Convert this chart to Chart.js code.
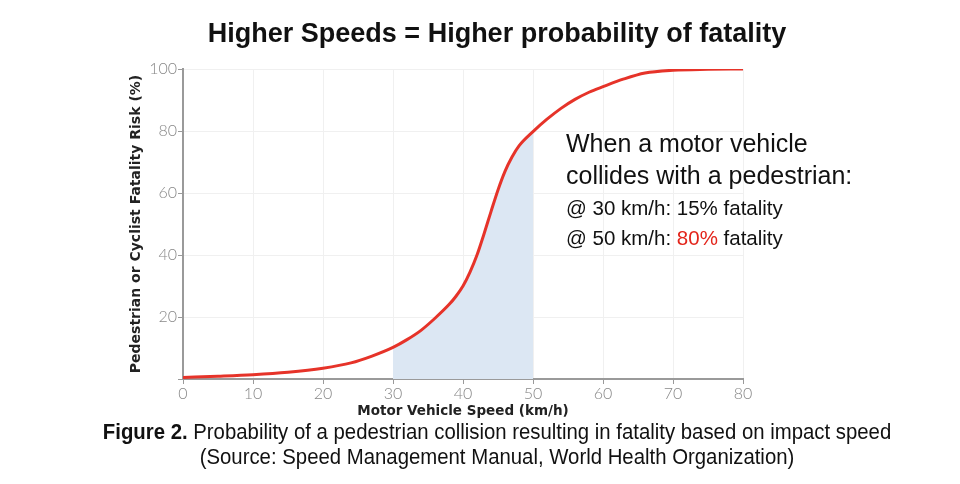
<html lang="en">
<head>
    <meta charset="UTF-8">
    <title>Higher Speeds = Higher probability of fatality</title>
    <script src="https://cdn.jsdelivr.net/npm/chart.js"></script>
    <style>
        body { margin: 0; background: #fff; }
        #wrap { position: relative; width: 960px; height: 484px; }
        #chart { position: absolute; left: 0; top: 0; }
        .txt { position: absolute; font-family: "Liberation Sans", Arial, sans-serif; color: #111; white-space: nowrap; }
        #title { left: 0; width: 994px; top: 18px; text-align: center; font-weight: bold; font-size: 27px; }
        #note1 { left: 566px; top: 127px; font-size: 25px; line-height: 32px; }
        #note2 { left: 566px; top: 193px; font-size: 20.5px; line-height: 30px; }
        #caption { left: 0; width: 994px; top: 419px; text-align: center; font-size: 22px; line-height: 25px; transform: scaleX(0.925); transform-origin: 497px 0; }
        .red { color: #e3251b; }
    </style>
</head>
<body>
<div id="wrap">
    <canvas id="chart" width="960" height="484"></canvas>
    <div class="txt" id="title">Higher Speeds = Higher probability of fatality</div>
    <div class="txt" id="note1">When a motor vehicle<br>collides with a pedestrian:</div>
    <div class="txt" id="note2">@ 30 km/h: 15% fatality<br>@ 50 km/h: <span class="red">80%</span> fatality</div>
    <div class="txt" id="caption"><b>Figure 2.</b> Probability of a pedestrian collision resulting in fatality based on impact speed<br>(Source: Speed Management Manual, World Health Organization)</div>
</div>

<script>
    // speed (km/h) and fatality risk (%)
    const speeds = [0, 5, 10, 15, 20, 24, 27, 30, 32, 34, 36, 38, 39, 40, 41, 42, 43, 44, 45, 46, 47, 48, 50, 52, 54, 56, 58, 60, 63, 66, 70, 75, 80];
    const risk   = [0.5, 0.9, 1.4, 2.2, 3.5, 5.2, 7.4, 10.2, 12.7, 15.7, 19.6, 24, 26.7, 30, 34.5, 40, 46.8, 54, 61, 67, 71.6, 75.2, 79.8, 83.8, 87.3, 90.2, 92.5, 94.3, 96.8, 98.7, 99.6, 99.9, 100];
    const shadeFrom = 30;
    const shadeTo = 50;
    const xTicks = [0, 10, 20, 30, 40, 50, 60, 70, 80];
    const yTicks = [0, 20, 40, 60, 80, 100];

    const curve = speeds.map((s, i) => ({ x: s, y: risk[i] }));
    const shaded = curve.filter(p => p.x >= shadeFrom && p.x <= shadeTo);

    const tickFont = { family: 'Lato, "Noto Sans", sans-serif', size: 16, weight: 300 };
    const titleFont = { family: '"DejaVu Sans", sans-serif', size: 13, weight: 'bold' };

    new Chart(document.getElementById('chart'), {
        type: 'line',
        data: {
            datasets: [{
                data: curve,
                borderColor: '#e63329',
                borderWidth: 3,
                pointRadius: 0,
                cubicInterpolationMode: 'monotone',
                fill: false,
                order: 0
            }, {
                data: shaded,
                borderWidth: 0,
                borderColor: 'rgba(0,0,0,0)',
                backgroundColor: '#dce7f3',
                pointRadius: 0,
                cubicInterpolationMode: 'monotone',
                fill: 'origin',
                order: 1
            }]
        },
        options: {
            responsive: false,
            animation: false,
            layout: { padding: { left: 120, right: 217, top: 69, bottom: 60 } },
            plugins: { legend: { display: false }, tooltip: { enabled: false } },
            scales: {
                x: {
                    type: 'linear',
                    min: 0, max: 80,
                    afterFit: s => { s.height = 45; },
                    afterBuildTicks: s => { s.ticks = xTicks.map(v => ({ value: v })); },
                    ticks: { color: '#888', font: tickFont, padding: 0 },
                    grid: { color: '#f0f0f0', tickColor: '#9a9a9a', tickLength: 5 },
                    border: { color: '#9a9a9a', width: 2 },
                    title: { display: true, text: 'Motor Vehicle Speed (km/h)', color: '#222', font: { ...titleFont, size: 13.5 }, padding: { top: 0 } }
                },
                y: {
                    min: 0, max: 100,
                    afterFit: s => { s.width = 63; },
                    afterBuildTicks: s => { s.ticks = yTicks.map(v => ({ value: v })); },
                    ticks: { color: '#888', font: tickFont, padding: 1, callback: v => v === 0 ? '' : v },
                    grid: { color: '#f0f0f0', tickColor: '#9a9a9a', tickLength: 5 },
                    border: { color: '#9a9a9a', width: 2 },
                    title: { display: true, text: 'Pedestrian or Cyclist Fatality Risk (%)', color: '#222', font: { ...titleFont, size: 14 }, padding: { top: 8, bottom: 0 } }
                }
            }
        }
    });
</script>
</body>
</html>
